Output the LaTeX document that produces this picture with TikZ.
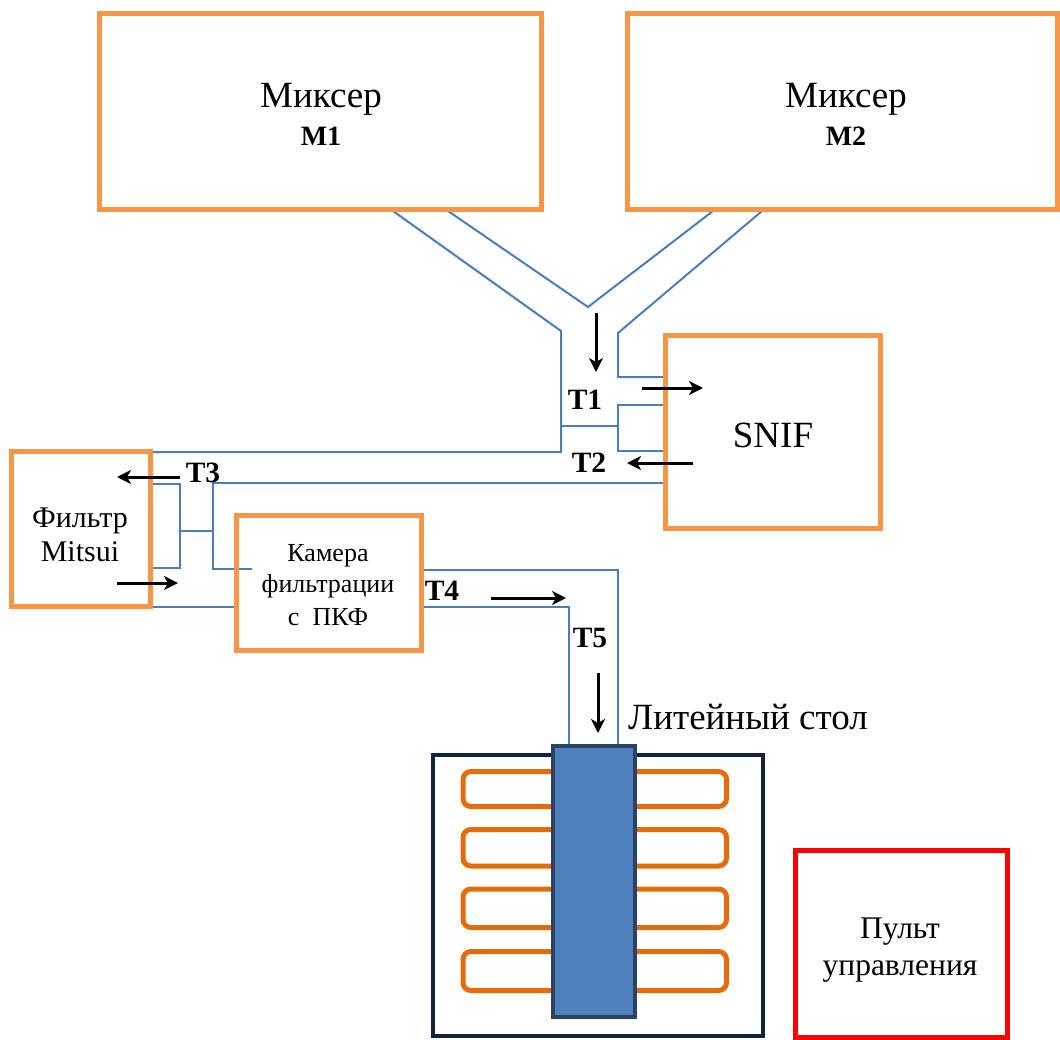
\documentclass[tikz,border=0pt]{standalone}
\usepackage{fontspec}
\setmainfont{Liberation Serif}
\usetikzlibrary{arrows.meta}
\definecolor{boxorange}{HTML}{F79646}
\definecolor{moldorange}{HTML}{E46C0A}
\definecolor{pipeblue}{HTML}{4A7EBB}
\definecolor{colfill}{HTML}{4F81BD}
\definecolor{colborder}{HTML}{2A4365}
\definecolor{tablenavy}{HTML}{12243D}
\definecolor{pultred}{HTML}{FF0000}
\tikzset{
  unitbox/.style={draw=boxorange, line width=5pt, rectangle, inner sep=0pt, outer sep=0pt},
  pipe/.style={draw=pipeblue, line width=2pt, line join=miter},
  flow/.style={draw=black, line width=3pt, -{Stealth[length=14pt,width=14pt,inset=4pt]}},
  tlabel/.style={font=\bfseries\fontsize{29.5}{32}\selectfont, anchor=base, inner sep=0pt},
  mold/.style={draw=moldorange, line width=5pt, rounded corners=8pt},
}
\begin{document}
\begin{tikzpicture}[x=1pt,y=-1pt]
\useasboundingbox (0,0) rectangle (1060,1039);

% pipes (behind boxes)
\draw[pipe] (393,211) -- (561,331) -- (561,452) -- (150,452);
\draw[pipe] (448,211) -- (588,307) -- (713,211);
\draw[pipe] (762,211) -- (618,333) -- (618,377) -- (665,377);
\draw[pipe] (665,405) -- (618,405) -- (618,451) -- (665,451);
\draw[pipe] (561,426) -- (618,426);
\draw[pipe] (665,483) -- (213,483) -- (213,569) -- (252,569);
\draw[pipe] (150,484) -- (180,484) -- (180,568) -- (150,568);
\draw[pipe] (180,531) -- (213,531);
\draw[pipe] (150,607) -- (237,607);
\draw[pipe] (420,570) -- (618,570) -- (618,746);
\draw[pipe] (420,607) -- (569,607) -- (569,746);

% units
\node[unitbox, minimum width=442pt, minimum height=196pt] (m1) at (320,111) {};
\node[unitbox, minimum width=430pt, minimum height=196pt] (m2) at (842,111) {};
\node[unitbox, minimum width=215pt, minimum height=193pt] (snif) at (772.5,431.5) {};
\node[unitbox, minimum width=139pt, minimum height=155pt] (mitsui) at (80.5,528.5) {};
\node[unitbox, minimum width=185pt, minimum height=135pt] (kamera) at (328.5,582.5) {};
\node[draw=pultred, line width=5pt, rectangle, inner sep=0pt, minimum width=212pt, minimum height=187pt] (pult) at (901,943.5) {};

% casting table
\node[draw=tablenavy, line width=4.5pt, rectangle, inner sep=0pt, minimum width=330pt, minimum height=281pt] (table) at (598,895.5) {};
\draw[mold] (463,771.5) rectangle (726.5,806.5);
\draw[mold] (463,829.5) rectangle (726.5,866);
\draw[mold] (463,889) rectangle (726.5,927.5);
\draw[mold] (463,951.5) rectangle (726.5,990.5);
\node[draw=colborder, fill=colfill, line width=4pt, rectangle, inner sep=0pt, minimum width=82.5pt, minimum height=271pt] (column) at (594,881) {};

% texts
\node[anchor=base, inner sep=0pt, font=\fontsize{37}{40}\selectfont] (m1a) at (321,107) {Миксер};
\node[anchor=base, inner sep=0pt, font=\bfseries\fontsize{28}{30}\selectfont] (m1b) at (321,145) {M1};
\node[anchor=base, inner sep=0pt, font=\fontsize{37}{40}\selectfont] (m2a) at (846,107) {Миксер};
\node[anchor=base, inner sep=0pt, font=\bfseries\fontsize{28}{30}\selectfont] (m2b) at (846,145) {M2};
\node[anchor=base, inner sep=0pt, font=\fontsize{37}{40}\selectfont] (snift) at (773,447) {SNIF};
\node[anchor=base, inner sep=0pt, font=\fontsize{30}{32}\selectfont] (mia) at (80,527) {Фильтр};
\node[anchor=base, inner sep=0pt, font=\fontsize{30}{32}\selectfont] (mib) at (80,561) {Mitsui};
\node[anchor=base, inner sep=0pt, font=\fontsize{26}{28}\selectfont] (ka) at (328,561) {Камера};
\node[anchor=base, inner sep=0pt, font=\fontsize{26}{28}\selectfont] (kb) at (328,592) {фильтрации};
\node[anchor=base, inner sep=0pt, font=\fontsize{26}{28}\selectfont] (kc) at (328,625) {с\ \ ПКФ};
\node[anchor=base, inner sep=0pt, font=\fontsize{31.5}{34}\selectfont] (pa) at (900,938) {Пульт};
\node[anchor=base, inner sep=0pt, font=\fontsize{31.5}{34}\selectfont] (pb) at (900,975) {управления};
\node[anchor=base west, inner sep=0pt, font=\fontsize{37}{40}\selectfont] (lt) at (628,729) {Литейный стол};

\node[tlabel] (t1) at (585,409) {T1};
\node[tlabel] (t2) at (589,472) {T2};
\node[tlabel] (t3) at (203,482) {T3};
\node[tlabel] (t4) at (442,600) {T4};
\node[tlabel] (t5) at (590,647) {T5};

% flow arrows
\coordinate (a1s) at (596,313); \coordinate (a1e) at (596,372);
\coordinate (a2s) at (642,388); \coordinate (a2e) at (703,388);
\coordinate (a3s) at (693,463); \coordinate (a3e) at (627,463);
\coordinate (a4s) at (180,477); \coordinate (a4e) at (117,477);
\coordinate (a5s) at (117,583); \coordinate (a5e) at (178,583);
\coordinate (a6s) at (491,598); \coordinate (a6e) at (566,598);
\coordinate (a7s) at (598,673); \coordinate (a7e) at (598,733);
\draw[flow] (a1s) -- (a1e);
\draw[flow] (a2s) -- (a2e);
\draw[flow] (a3s) -- (a3e);
\draw[flow] (a4s) -- (a4e);
\draw[flow] (a5s) -- (a5e);
\draw[flow] (a6s) -- (a6e);
\draw[flow] (a7s) -- (a7e);
\end{tikzpicture}
\end{document}
